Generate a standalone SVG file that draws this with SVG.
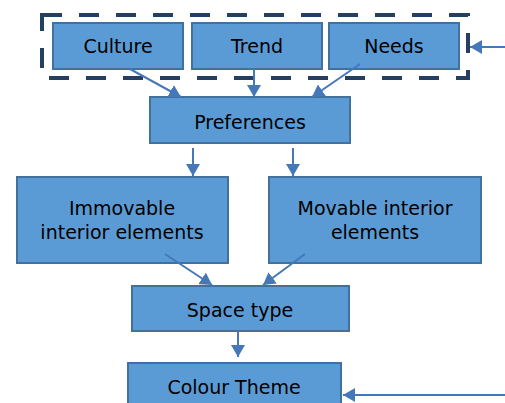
<svg xmlns="http://www.w3.org/2000/svg" width="505" height="403" viewBox="0 0 505 403">
<defs>
<marker id="ah" viewBox="0 0 12 14" refX="12" refY="7" markerWidth="12" markerHeight="14" markerUnits="userSpaceOnUse" orient="auto">
<path d="M0,0 L12,7 L0,14 z" fill="#4478B8"/>
</marker>
<style>
.box{fill:#5B9BD5;stroke:#41719C;stroke-width:2}
.t{font-family:"DejaVu Sans",sans-serif;font-size:19px;fill:#000;text-anchor:middle}
.c{stroke:#4478B8;stroke-width:2;fill:none;marker-end:url(#ah)}
</style>
</defs>
<rect width="505" height="403" fill="#fff"/>
<rect x="42" y="15" width="426" height="63" fill="none" stroke="#243F60" stroke-width="4" stroke-dasharray="20 17"/>
<g id="culture"><rect class="box" x="53" y="23" width="130" height="46"/><text class="t" x="118" y="53">Culture</text></g>
<g id="trend"><rect class="box" x="192" y="23" width="130" height="46"/><text class="t" x="257" y="53">Trend</text></g>
<g id="needs"><rect class="box" x="329" y="23" width="130" height="46"/><text class="t" x="394" y="53">Needs</text></g>
<g id="preferences"><rect class="box" x="150" y="97" width="200" height="46"/><text class="t" x="250" y="129">Preferences</text></g>
<g id="immovable"><rect class="box" x="17" y="177" width="211" height="86"/><text class="t" x="122" y="215">Immovable</text><text class="t" x="122" y="239">interior elements</text></g>
<g id="movable"><rect class="box" x="269" y="177" width="212" height="86"/><text class="t" x="375" y="215">Movable interior</text><text class="t" x="375" y="239">elements</text></g>
<g id="spacetype"><rect class="box" x="132" y="286" width="217" height="45"/><text class="t" x="240" y="317">Space type</text></g>
<g id="colourtheme"><rect class="box" x="128" y="363" width="213" height="50"/><text class="t" x="234" y="394">Colour Theme</text></g>
<g id="connectors">
<line class="c" x1="130" y1="69" x2="181" y2="97"/>
<line class="c" x1="254" y1="69" x2="254" y2="97"/>
<line class="c" x1="360" y1="64" x2="312" y2="97"/>
<line class="c" x1="193" y1="148" x2="193" y2="176"/>
<line class="c" x1="293" y1="148" x2="293" y2="176"/>
<line class="c" x1="165" y1="254" x2="212" y2="285"/>
<line class="c" x1="305" y1="254" x2="263" y2="285"/>
<line class="c" x1="238" y1="331" x2="238" y2="357"/>
<line class="c" x1="505" y1="47" x2="470" y2="47"/>
<line class="c" x1="505" y1="395" x2="343" y2="395"/>
</g>
</svg>
